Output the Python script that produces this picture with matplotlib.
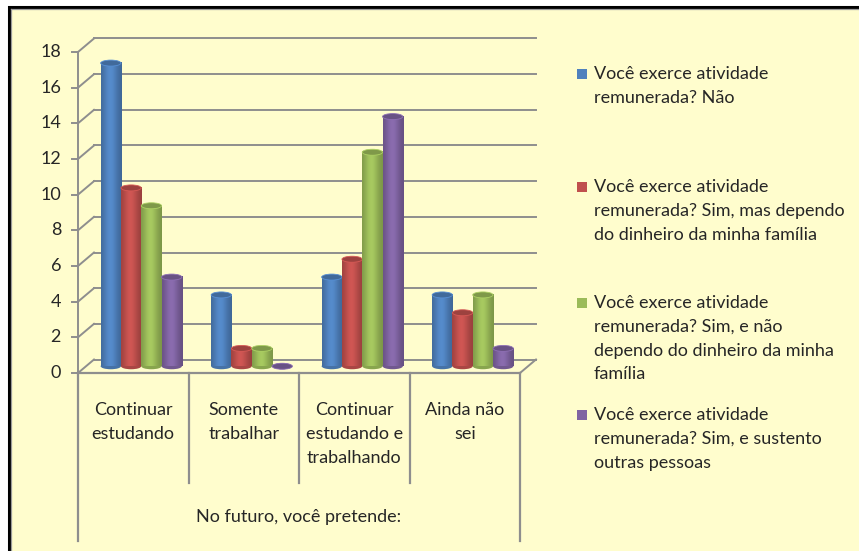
import numpy as np
import matplotlib.pyplot as plt
from matplotlib.patches import Ellipse, Rectangle

# data
categories = ['Continuar\nestudando', 'Somente\ntrabalhar',
              'Continuar\nestudando e\ntrabalhando', 'Ainda não\nsei']
series_names = [
    'Você exerce atividade\nremunerada? Não',
    'Você exerce atividade\nremunerada? Sim, mas dependo\ndo dinheiro da minha família',
    'Você exerce atividade\nremunerada? Sim, e não\ndependo do dinheiro da minha\nfamília',
    'Você exerce atividade\nremunerada? Sim, e sustento\noutras pessoas',
]
nao = [17, 4, 5, 4]
sim_depende = [10, 1, 6, 3]
sim_independente = [9, 1, 12, 4]
sim_sustenta = [5, 0, 14, 1]
values = [nao, sim_depende, sim_independente, sim_sustenta]
colors = ['#4F81BD', '#C0504D', '#9BBB59', '#8064A2']
yticks = list(range(0, 19, 2))
axis_title = 'No futuro, você pretende:'

plt.rcParams['font.family'] = ['Lato', 'DejaVu Sans']
W, H = 859, 551
fig = plt.figure(figsize=(W / 100, H / 100), dpi=100)
fig.patch.set_facecolor('white')

def fx(x):
    return x / W

def fy(y):
    return 1 - y / H

# chart area frame (black edge on top/left, cut at the right/bottom)
bg = fig.add_axes([0, 0, 1, 1], zorder=-5)
bg.axis('off')
bg.set_xlim(0, 1)
bg.set_ylim(0, 1)
bg.add_patch(Rectangle((fx(9), -0.1), 1.2, fy(7) + 0.1,
                       facecolor='#FFFDCD', edgecolor='black', lw=2.2))
bg.plot([fx(11), fx(11)], [0, fy(9)], color='#9A9A9A', lw=0.9)
bg.plot([fx(11), 1], [fy(9), fy(9)], color='#9A9A9A', lw=0.9)

ax = fig.add_axes([fx(78), fy(373), (520 - 78) / W, (373 - 52) / H])
ax.axis('off')
n = len(categories)
ymax = 18
px_x = n / 442.0
px_y = ymax / 321.0
dx = 16 * px_x
dy = 13.5 * px_y
grid_c = '#8E8E8E'
txt_c = '#262626'
fs = 13

# back wall gridlines + side wall diagonals
for v in yticks:
    ax.plot([dx, n + dx], [v + dy, v + dy], color=grid_c, lw=1.4, zorder=1, clip_on=False)
    ax.plot([0, dx], [v, v + dy], color=grid_c, lw=1.4, zorder=1, clip_on=False)
    ax.plot([-6 * px_x, 0], [v, v], color=grid_c, lw=1.4, zorder=1, clip_on=False)
    ax.text(-17 * px_x, v, str(v), ha='right', va='center', fontsize=fs, color=txt_c)
ax.plot([0, 0], [0, ymax], color=grid_c, lw=1.4, zorder=1, clip_on=False)
# floor front edge
ax.plot([0, n], [0, 0], color=grid_c, lw=1.6, zorder=1, clip_on=False)
ax.plot([n, n + dx], [0, dy], color=grid_c, lw=1.4, zorder=1, clip_on=False)

# category separators
for i in range(n + 1):
    bottom = -168 * px_y if i in (0, n) else -110 * px_y
    ax.plot([i, i], [0, bottom], color=grid_c, lw=1.6, clip_on=False)
for i, c in enumerate(categories):
    ax.text(i + 0.5, -29 * px_y, c, ha='center', va='top', fontsize=fs,
            color=txt_c, linespacing=1.6)
ax.text(n / 2, -144 * px_y, axis_title, ha='center', va='center', fontsize=fs, color=txt_c)

# cylinders
bw = 20.3 * px_x
eh = 6 * px_y
base = dy / 2
t = np.linspace(0, 1, 64)
shade = 0.78 + 0.3 * np.exp(-((t - 0.45) / 0.35) ** 2)

def rgb(h):
    return np.array([int(h[k:k + 2], 16) for k in (1, 3, 5)]) / 255.0

for s, (vals, col) in enumerate(zip(values, colors)):
    c = rgb(col)
    grad = np.clip(c[None, :] * shade[:, None], 0, 1)[None, :, :]
    for i, v in enumerate(vals):
        xc = i + 0.5 + dx / 2 + (s - 1.5) * bw
        x0 = xc - bw / 2
        z = 3 + s
        ax.add_patch(Ellipse((xc, base), bw, eh, facecolor=c * 0.88, edgecolor='none', zorder=z))
        if v > 0:
            ax.imshow(grad, extent=[x0, x0 + bw, base, base + v], aspect='auto',
                      interpolation='bilinear', zorder=z)
        ax.add_patch(Ellipse((xc, base + v), bw, eh, facecolor=c * 0.82,
                             edgecolor=np.clip(c * 1.12, 0, 1), lw=0.6, zorder=z + 0.5))

ax.set_xlim(0, n)
ax.set_ylim(0, ymax)
ax.set_aspect('auto')

# legend
leg_y = [74, 187, 303, 415]
for name, col, y in zip(series_names, colors, leg_y):
    fig.patches.append(Rectangle((fx(577), fy(y + 5)), 10 / W, 10 / H, transform=fig.transFigure,
                                 facecolor=col, edgecolor='none'))
    fig.text(fx(594), fy(y - 8), name, ha='left', va='top', fontsize=fs,
             color=txt_c, linespacing=1.6)

fig.savefig('out.png', dpi=100)
